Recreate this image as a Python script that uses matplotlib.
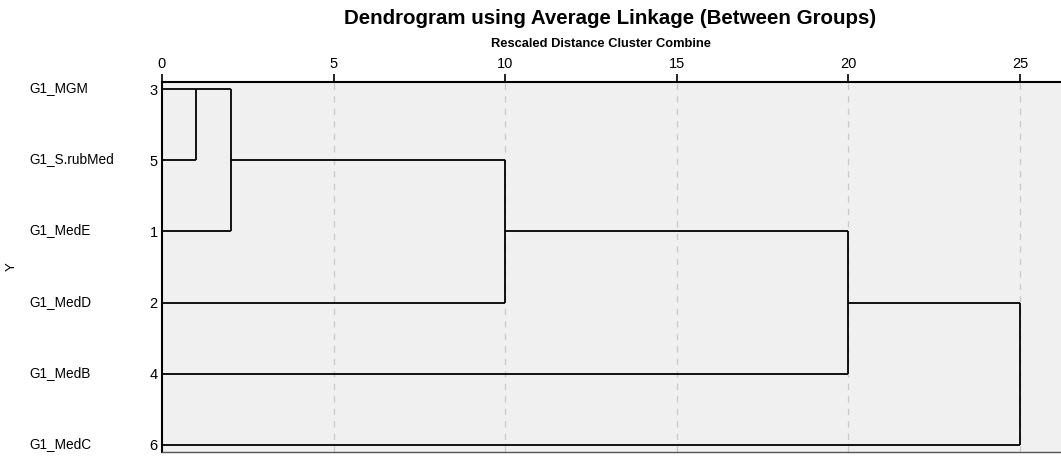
import matplotlib
matplotlib.use("Agg")
import matplotlib.pyplot as plt

plt.rcParams['font.family'] = ['Liberation Sans', 'DejaVu Sans']

# Leaves in dendrogram order (top to bottom)
leaf_labels = ["G1_MGM", "G1_S.rubMed", "G1_MedE", "G1_MedD", "G1_MedB", "G1_MedC"]
case_numbers = ["3", "5", "1", "2", "4", "6"]
# Agglomeration steps: (cluster A, cluster B, rescaled distance)
# clusters 0..5 are leaves (row index), new clusters numbered 6, 7, ...
merge_a = [0, 6, 7, 8, 9]
merge_b = [1, 2, 3, 4, 5]
merge_dist = [1, 2, 10, 20, 25]
x_ticks = [0, 5, 10, 15, 20, 25]

W, H = 1061, 459
fig = plt.figure(figsize=(W / 100, H / 100), dpi=100)
ax = fig.add_axes([162 / W, 1 - 452 / H, (W - 162) / W, (452 - 82) / H])
ax.set_facecolor('#F0F0F0')

n = len(leaf_labels)
pos = {i: float(i) for i in range(n)}        # output row
xcur = {i: 0.0 for i in range(n)}
lc = 'black'
lw = 1.3
for k, (a, b, d) in enumerate(zip(merge_a, merge_b, merge_dist)):
    ya, yb = pos[a], pos[b]
    ax.plot([xcur[a], d], [ya, ya], color=lc, lw=lw, solid_capstyle='butt', zorder=3)
    ax.plot([xcur[b], d], [yb, yb], color=lc, lw=lw, solid_capstyle='butt', zorder=3)
    ax.plot([d, d], [ya, yb], color=lc, lw=lw, solid_capstyle='butt', zorder=3)
    new = n + k
    pos[new] = float(int((ya + yb) // 2))
    xcur[new] = d

xmax = (W - 162) / ((1020 - 162) / 25)
ax.set_xlim(0, xmax)
ax.set_ylim(5.1, -0.1)

for t in x_ticks[1:]:
    ax.axvline(t, color='#C8C8C8', lw=0.9, ls=(0, (5, 5)), zorder=1)

ax.xaxis.tick_top()
ax.set_xticks(x_ticks)
ax.set_xticklabels([str(t) for t in x_ticks])
ax.tick_params(axis='x', direction='out', length=6, width=1.2, pad=2, labelsize=10.5, colors='black')
ax.set_yticks(range(n))
ax.set_yticklabels(case_numbers)
ax.tick_params(axis='y', length=0, pad=3, labelsize=10.5)

ax.spines['right'].set_visible(False)
ax.spines['top'].set_linewidth(1.5)
ax.spines['left'].set_linewidth(1.5)
ax.spines['bottom'].set_linewidth(1.0)
ax.spines['bottom'].set_color('#555555')

for i, lab in enumerate(leaf_labels):
    ydisp = ax.transData.transform((0, i))[1]
    fig.text(29 / W, (ydisp + 1) / H, lab, ha='left', va='center', fontsize=9.8)

fig.text(12 / W, 1 - 267 / H, 'Y', rotation=90, ha='center', va='center', fontsize=9.5)
fig.text(610 / W, 1 - 18 / H, 'Dendrogram using Average Linkage (Between Groups)',
         ha='center', va='center', fontsize=14.8, fontweight='bold')
fig.text(601 / W, 1 - 44 / H, 'Rescaled Distance Cluster Combine',
         ha='center', va='center', fontsize=9.3, fontweight='bold')

fig.savefig('out.png', dpi=100)
